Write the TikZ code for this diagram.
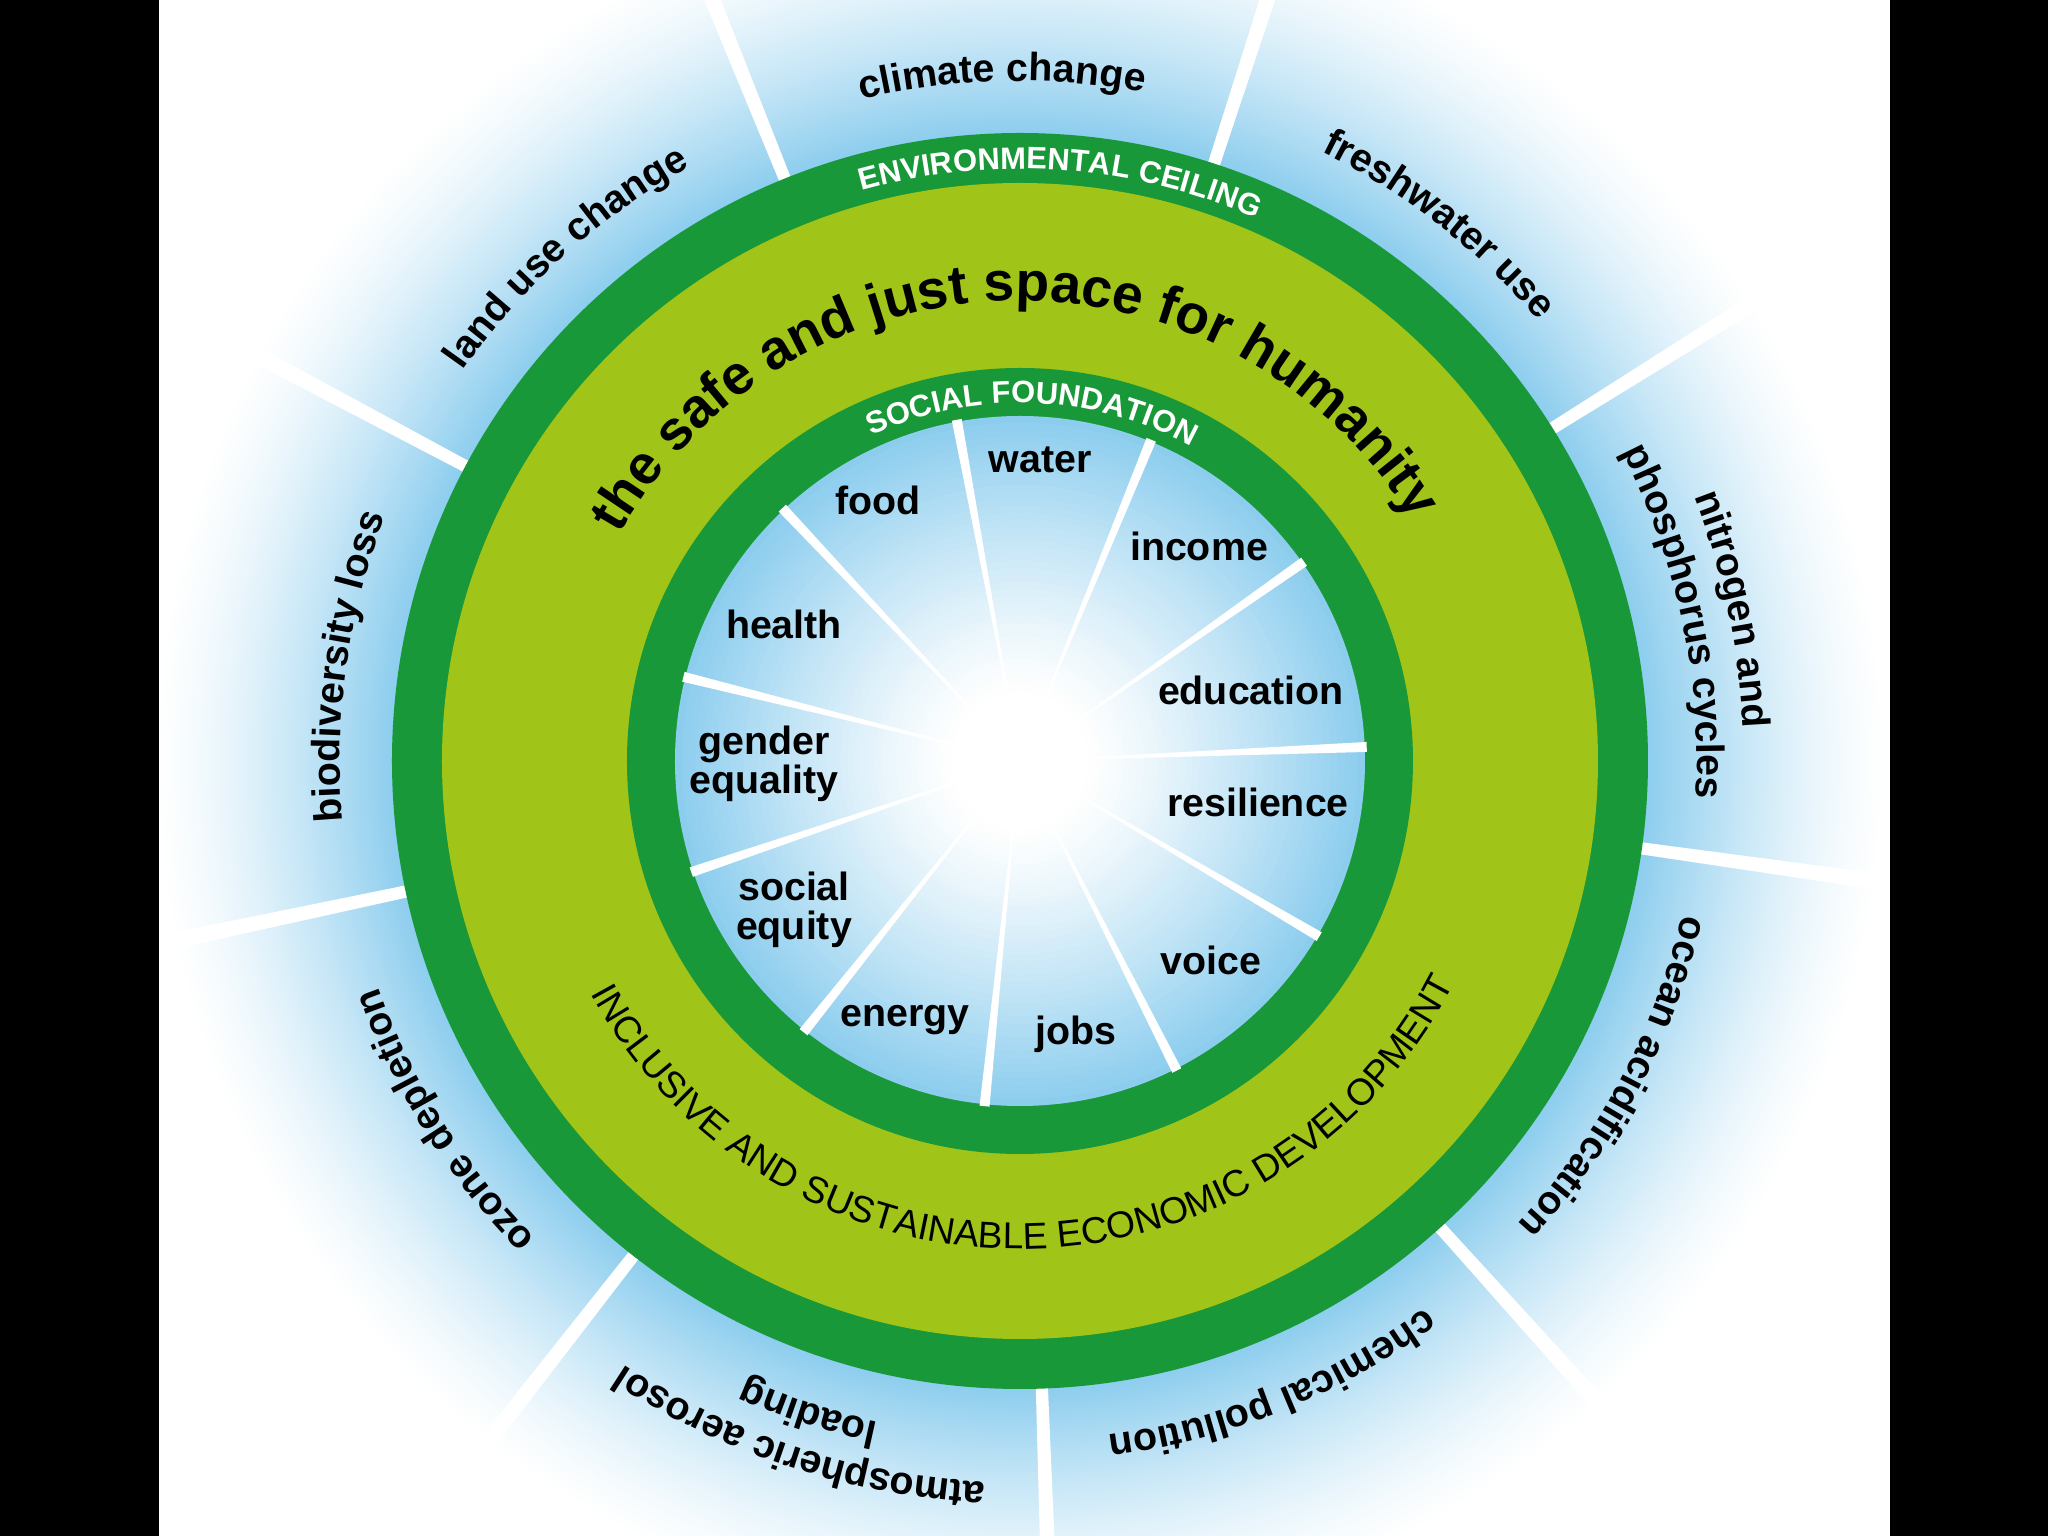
\documentclass[tikz,border=0pt]{standalone}
\usepackage{fontspec}
\setmainfont{Liberation Sans}
\usetikzlibrary{decorations.text}
\definecolor{dgreen}{RGB}{24,152,56}
\definecolor{lgreen}{RGB}{160,196,24}
\definecolor{skyb}{RGB}{140,205,238}
\newcommand\labfont{\fontsize{11.2}{13}\selectfont\bfseries}
% clockwise arc text (tops outward): centre angle, half span, radius, format, text
\newcommand\cwtext[5]{\path[decorate,decoration={text along path,text align=center,text={|#4|#5}}] ({#1+#2}:#3) arc[start angle={#1+#2},end angle={#1-#2},radius=#3];}
% counter-clockwise arc text (tops inward)
\newcommand\ccwtext[5]{\path[decorate,decoration={text along path,text align=center,text={|#4|#5}}] ({#1-#2}:#3) arc[start angle={#1-#2},end angle={#1+#2},radius=#3];}
\tikzset{
  inlab/.style={font=\fontsize{11.2}{11.1}\selectfont\bfseries, inner sep=0pt, text=black, align=center},
  outspoke/.style={fill=white},
  inspoke/.style={fill=white}
}
\begin{document}
\begin{tikzpicture}
\useasboundingbox (-10.20,-7.75) rectangle (10.28,7.61);
\fill[white] (-10.20,-7.75) rectangle (10.28,7.61);
% outer blue halo
\foreach \i in {0,...,70}{
  \pgfmathsetmacro\myr{8.7-\i*(8.7-6.28)/70}
  \pgfmathsetmacro\myt{100*(\i/70)^1.4}
  \fill[skyb!\myt!white] (0,0) circle (\myr);
}
% outer spokes
\foreach \a in {112,72,32,-8,-48,-88,-128,-168,152}{
  \fill[outspoke,rotate=\a] (6.2,-0.06) -- (11,-0.10) -- (11,0.10) -- (6.2,0.06) -- cycle;
}
% rings
\fill[dgreen] (0,0) circle (6.28);
\fill[lgreen] (0,0) circle (5.78);
\fill[dgreen] (0,0) circle (3.93);
% inner disc gradient
\foreach \i in {0,...,49}{
  \pgfmathsetmacro\myr{3.45-\i*3.45/50}
  \pgfmathsetmacro\myt{100*(max(0,(\myr-0.7)/2.75))^1.2}
  \fill[skyb!\myt!white] (0,0) circle (\myr);
}
% inner spokes
\foreach \k in {0,...,10}{
  \pgfmathsetmacro\ang{100.5-\k*32.7273}
  \fill[inspoke,rotate=\ang] (0,0) -- (3.47,-0.05) -- (3.47,0.05) -- cycle;
}
% ring texts
\cwtext{86}{40}{5.92}{\color{white}\fontsize{8.8}{10}\selectfont\bfseries}{ENVIRONMENTAL CEILING}
\cwtext{88}{50}{3.58}{\color{white}\fontsize{8.8}{10}\selectfont\bfseries}{SOCIAL FOUNDATION}
\cwtext{91}{80}{4.6}{\fontsize{15.7}{18}\selectfont\bfseries}{the safe and just space for humanity}
\ccwtext{-89.4}{80}{4.88}{\fontsize{10.6}{12}\selectfont}{INCLUSIVE AND SUSTAINABLE ECONOMIC DEVELOPMENT}
% planetary boundaries
\cwtext{91.5}{19}{6.8}{\labfont}{climate change}
\cwtext{52}{19}{6.8}{\labfont}{freshwater use}
\cwtext{12}{19}{7.24}{\labfont}{nitrogen and}
\cwtext{12}{19}{6.77}{\labfont}{phosphorus cycles}
\cwtext{-28}{19}{6.8}{\labfont}{ocean acidification}
\cwtext{-68}{19}{6.8}{\labfont}{chemical pollution}
\cwtext{-108}{19}{7.22}{\labfont}{atmospheric aerosol}
\cwtext{-108}{19}{6.76}{\labfont}{loading}
\cwtext{-148}{19}{6.8}{\labfont}{ozone depletion}
\cwtext{172}{19}{6.8}{\labfont}{biodiversity loss}
\cwtext{132}{19}{6.8}{\labfont}{land use change}
% social foundation items
\node[inlab] (water) at (0.20,3.01) {water};
\node[inlab] (food) at (-1.42,2.61) {food};
\node[inlab] (income) at (1.79,2.15) {income};
\node[inlab] (health) at (-2.36,1.37) {health};
\node[inlab] (education) at (2.31,0.71) {education};
\node[inlab] (gender) at (-2.56,-0.03) {gender\\equality};
\node[inlab] (resilience) at (2.38,-0.41) {resilience};
\node[inlab] (equity) at (-2.26,-1.49) {social\\equity};
\node[inlab] (voice) at (1.91,-1.99) {voice};
\node[inlab] (energy) at (-1.15,-2.59) {energy};
\node[inlab] (jobs) at (0.56,-2.73) {jobs};
% side bars
\fill[black] (-10.20,-7.75) rectangle (-8.61,7.61);
\fill[black] (8.70,-7.75) rectangle (10.28,7.61);
\end{tikzpicture}
\end{document}
